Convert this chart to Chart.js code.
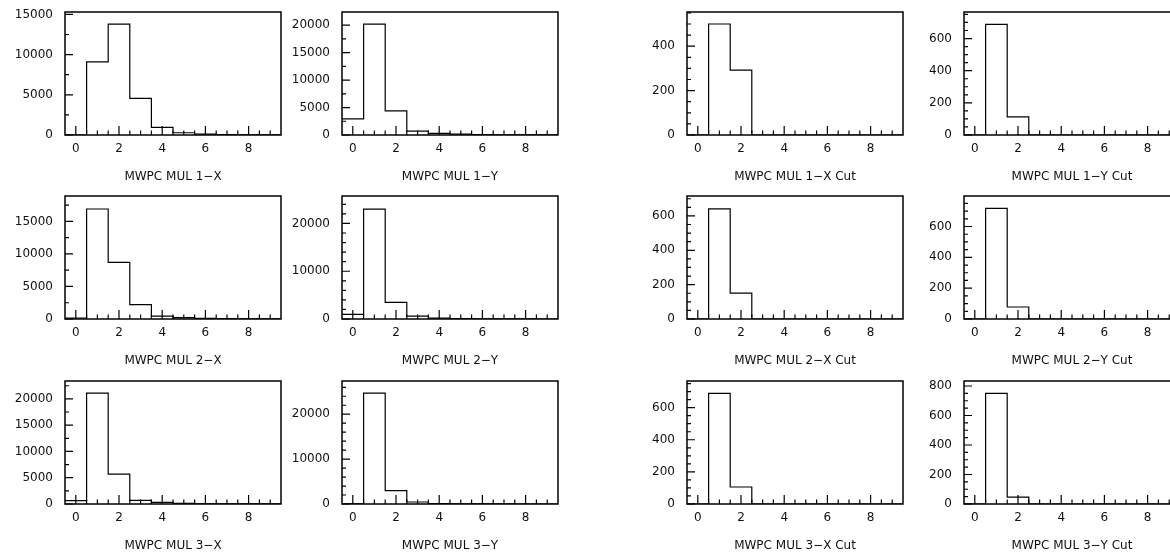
<!DOCTYPE html>
<html>
<head>
<meta charset="utf-8">
<script src="https://cdn.jsdelivr.net/npm/chart.js@4.4.1/dist/chart.umd.min.js"></script>
<style>
  html, body { margin: 0; padding: 0; width: 1170px; height: 552px; overflow: hidden; background: #fff; }
  canvas { position: absolute; }
</style>
</head>
<body>
<script>
// Multiplicity bins (centred on integers) and x tick labels
const bins = [0, 1, 2, 3, 4, 5, 6, 7, 8, 9];
const xTickLabels = [0, 2, 4, 6, 8];

// Hit multiplicity per MWPC plane
const mul1X = [0, 9100, 13800, 4550, 950, 280, 120, 50, 20, 10];
const mul1Y = [2950, 20200, 4400, 700, 300, 150, 60, 30, 10, 5];
const mul2X = [150, 16900, 8700, 2200, 450, 200, 100, 50, 20, 10];
const mul2Y = [950, 23000, 3500, 600, 200, 100, 50, 20, 10, 5];
const mul3X = [650, 21100, 5700, 690, 300, 100, 50, 20, 10, 5];
const mul3Y = [50, 24700, 3000, 450, 100, 50, 20, 10, 5, 0];

// Same planes after the event cut
const mul1XCut = [0, 500, 292, 0, 0, 0, 0, 0, 0, 0];
const mul1YCut = [0, 688, 113, 0, 0, 0, 0, 0, 0, 0];
const mul2XCut = [0, 641, 151, 0, 0, 0, 0, 0, 0, 0];
const mul2YCut = [0, 718, 78, 0, 0, 0, 0, 0, 0, 0];
const mul3XCut = [0, 689, 106, 0, 0, 0, 0, 0, 0, 0];
const mul3YCut = [0, 750, 47, 0, 0, 0, 0, 0, 0, 0];

const panels = [
  { title: 'MWPC MUL 1\u2212X',     values: mul1X,    yMax: 15300, major: 5000,  minor: 2500, col: 0, row: 0 },
  { title: 'MWPC MUL 1\u2212Y',     values: mul1Y,    yMax: 22400, major: 5000,  minor: 2500, col: 1, row: 0 },
  { title: 'MWPC MUL 1\u2212X Cut', values: mul1XCut, yMax: 554,   major: 200,   minor: 50,   col: 2, row: 0 },
  { title: 'MWPC MUL 1\u2212Y Cut', values: mul1YCut, yMax: 765,   major: 200,   minor: 50,   col: 3, row: 0 },
  { title: 'MWPC MUL 2\u2212X',     values: mul2X,    yMax: 18900, major: 5000,  minor: 2500, col: 0, row: 1 },
  { title: 'MWPC MUL 2\u2212Y',     values: mul2Y,    yMax: 25750, major: 10000, minor: 2000, col: 1, row: 1 },
  { title: 'MWPC MUL 2\u2212X Cut', values: mul2XCut, yMax: 716,   major: 200,   minor: 50,   col: 2, row: 1 },
  { title: 'MWPC MUL 2\u2212Y Cut', values: mul2YCut, yMax: 798,   major: 200,   minor: 50,   col: 3, row: 1 },
  { title: 'MWPC MUL 3\u2212X',     values: mul3X,    yMax: 23400, major: 5000,  minor: 2500, col: 0, row: 2 },
  { title: 'MWPC MUL 3\u2212Y',     values: mul3Y,    yMax: 27400, major: 10000, minor: 2000, col: 1, row: 2 },
  { title: 'MWPC MUL 3\u2212X Cut', values: mul3XCut, yMax: 766,   major: 200,   minor: 50,   col: 2, row: 2 },
  { title: 'MWPC MUL 3\u2212Y Cut', values: mul3YCut, yMax: 834,   major: 200,   minor: 50,   col: 3, row: 2 }
];

// Page geometry of the frames
const COL_LEFT = [65, 342, 687, 964];
const ROW_TOP = [12, 196, 381];
const FRAME_W = 216;
const FRAME_H = 123;
const AXIS_W = 62;
const PAD_TOP = 6;
const PAD_RIGHT = 4;
const X_AXIS_H = 22;
const TITLE_PAD_TOP = 13;
const TITLE_PAD_BOTTOM = 2.6;
const TITLE_H = TITLE_PAD_TOP + 12 * 1.2 + TITLE_PAD_BOTTOM;

const FONT = { family: 'DejaVu Sans', size: 12, weight: 'normal' };
const TEXT = '#111';

// Box frame plus inward-pointing ticks, HBOOK style
const frameTicks = {
  id: 'frameTicks',
  afterDatasetsDraw(chart, args, opts) {
    const { ctx, chartArea: a, scales: { x, y } } = chart;
    ctx.save();
    ctx.strokeStyle = '#000';
    ctx.lineWidth = 1.2;
    ctx.beginPath();
    for (let k = 0; k <= 18; k++) {
      const v = k * 0.5;
      const px = x.getPixelForValue(v);
      const len = (k % 4 === 0) ? 9 : 4.5;
      ctx.moveTo(px, a.bottom);
      ctx.lineTo(px, a.bottom - len);
    }
    const perMajor = Math.round(opts.major / opts.minor);
    for (let k = 0; k * opts.minor <= y.max; k++) {
      const py = y.getPixelForValue(k * opts.minor);
      const len = (k % perMajor === 0) ? 8 : 4;
      ctx.moveTo(a.left, py);
      ctx.lineTo(a.left + len, py);
    }
    ctx.stroke();
    ctx.lineWidth = 1.5;
    ctx.strokeRect(a.left, a.top, a.right - a.left, a.bottom - a.top);
    ctx.restore();
  }
};

panels.forEach(p => {
  const cv = document.createElement('canvas');
  const w = AXIS_W + FRAME_W + PAD_RIGHT;
  const h = Math.round(PAD_TOP + FRAME_H + X_AXIS_H + TITLE_H);
  cv.width = w;
  cv.height = h;
  cv.style.width = w + 'px';
  cv.style.height = h + 'px';
  cv.style.left = (COL_LEFT[p.col] - AXIS_W) + 'px';
  cv.style.top = (ROW_TOP[p.row] - PAD_TOP) + 'px';
  document.body.appendChild(cv);

  // Left bin edges, each carrying its bin's count; closing point at the last right edge
  const points = bins.map((b, i) => ({ x: b - 0.5, y: p.values[i] }));
  points.push({ x: bins[bins.length - 1] + 0.5, y: p.values[p.values.length - 1] });

  new Chart(cv, {
    type: 'line',
    data: {
      datasets: [{
        data: points,
        stepped: 'before',
        borderColor: '#000',
        borderWidth: 1.2,
        pointRadius: 0,
        fill: false
      }]
    },
    options: {
      responsive: false,
      animation: false,
      devicePixelRatio: 1,
      layout: { padding: { top: PAD_TOP, right: PAD_RIGHT, left: 0, bottom: 0 } },
      plugins: {
        legend: { display: false },
        tooltip: { enabled: false },
        title: {
          display: true,
          text: p.title,
          position: 'bottom',
          fullSize: false,
          color: TEXT,
          font: FONT,
          padding: { top: TITLE_PAD_TOP, bottom: TITLE_PAD_BOTTOM }
        },
        frameTicks: { major: p.major, minor: p.minor }
      },
      scales: {
        x: {
          type: 'linear',
          min: -0.5,
          max: 9.5,
          grid: { display: false, drawTicks: false },
          border: { display: false },
          ticks: { color: TEXT, font: FONT, padding: 7, autoSkip: false, maxRotation: 0,
                   callback: v => String(v) },
          afterBuildTicks: s => { s.ticks = xTickLabels.map(v => ({ value: v })); },
          afterFit: s => {
            s.height = X_AXIS_H;
            s.paddingLeft = 0; s.paddingRight = 0;
          }
        },
        y: {
          type: 'linear',
          min: 0,
          max: p.yMax,
          grid: { display: false, drawTicks: false },
          border: { display: false },
          ticks: { color: TEXT, font: FONT, padding: 12, autoSkip: false,
                   callback: v => String(v) },
          afterBuildTicks: s => {
            const t = [];
            for (let v = 0; v <= p.yMax; v += p.major) t.push({ value: v });
            s.ticks = t;
          },
          afterFit: s => {
            s.width = AXIS_W;
            s.paddingTop = 0; s.paddingBottom = 0;
          }
        }
      }
    },
    plugins: [frameTicks]
  });
});
</script>
</body>
</html>
